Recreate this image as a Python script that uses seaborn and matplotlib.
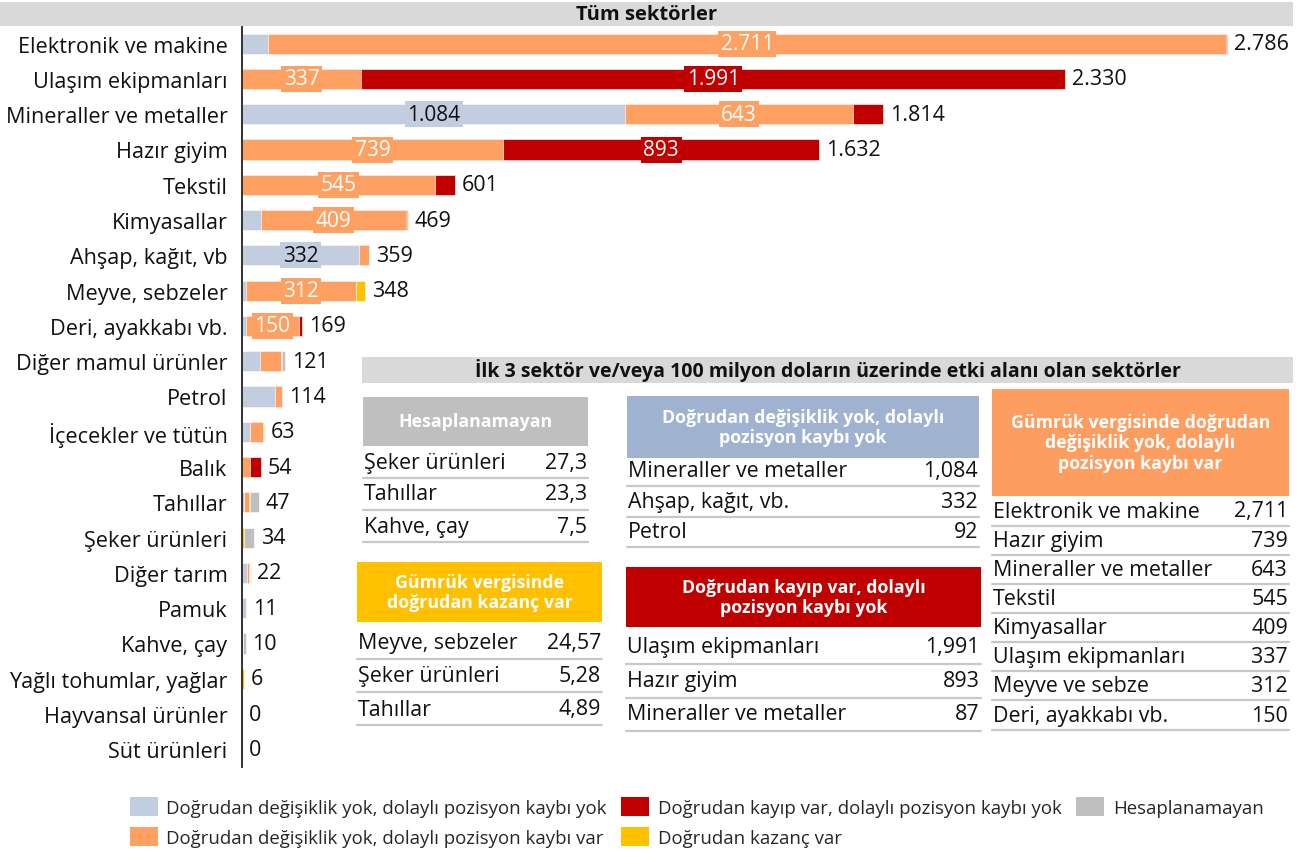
import matplotlib
matplotlib.use("Agg")
import matplotlib.pyplot as plt
from matplotlib.patches import Rectangle, Patch
from matplotlib.lines import Line2D
import numpy as np
import pandas as pd
import seaborn as sns

# veriler (milyon dolar)
sektorler = ["Elektronik ve makine", "Ulaşım ekipmanları", "Mineraller ve metaller",
             "Hazır giyim", "Tekstil", "Kimyasallar", "Ahşap, kağıt, vb",
             "Meyve, sebzeler", "Deri, ayakkabı vb.", "Diğer mamul ürünler", "Petrol",
             "İçecekler ve tütün", "Balık", "Tahıllar", "Şeker ürünleri", "Diğer tarım",
             "Pamuk", "Kahve, çay", "Yağlı tohumlar, yağlar", "Hayvansal ürünler",
             "Süt ürünleri"]
mavi = [73, 0, 1084, 0, 0, 55, 332, 11, 11, 50, 92, 22, 0, 6, 1, 14, 11, 2.5, 0, 0, 0]
turuncu = [2711, 337, 643, 739, 545, 409, 27, 312, 150, 60, 22, 38, 22, 13, 0, 5, 0, 0, 0, 0, 0]
kirmizi = [2, 1991, 87, 893, 56, 3, 0, 0, 8, 0, 0, 0, 32, 0, 0, 0, 0, 0, 0, 0, 0]
sari = [0, 0, 0, 0, 0, 2, 0, 25, 0, 4, 0, 3, 0, 4.89, 5.28, 3, 0, 0, 6, 0, 0]
gri = [0, 0, 0, 0, 0, 0, 0, 0, 0, 7, 0, 0, 0, 23.3, 27.3, 0, 0, 7.5, 0, 0, 0]
toplam = [2786, 2330, 1814, 1632, 601, 469, 359, 348, 169, 121, 114, 63, 54, 47, 34,
          22, 11, 10, 6, 0, 0]

katmanlar = ["mavi", "turuncu", "kirmizi", "sari", "gri"]
renkler = {"mavi": "#c3cde0", "turuncu": "#fda062", "kirmizi": "#c00000",
           "sari": "#ffc000", "gri": "#bfbfbf"}
etiketler = {"mavi": "Doğrudan değişiklik yok, dolaylı pozisyon kaybı yok",
             "turuncu": "Doğrudan değişiklik yok, dolaylı pozisyon kaybı var",
             "kirmizi": "Doğrudan kayıp var, dolaylı pozisyon kaybı yok",
             "sari": "Doğrudan kazanç var",
             "gri": "Hesaplanamayan"}

# tablolar
hes_ad = ["Şeker ürünleri", "Tahıllar", "Kahve, çay"]
hes_deger = ["27,3", "23,3", "7,5"]
kaz_ad = ["Meyve, sebzeler", "Şeker ürünleri", "Tahıllar"]
kaz_deger = ["24,57", "5,28", "4,89"]
mavi_ad = ["Mineraller ve metaller", "Ahşap, kağıt, vb.", "Petrol"]
mavi_deger = ["1,084", "332", "92"]
kir_ad = ["Ulaşım ekipmanları", "Hazır giyim", "Mineraller ve metaller"]
kir_deger = ["1,991", "893", "87"]
tur_ad = ["Elektronik ve makine", "Hazır giyim", "Mineraller ve metaller", "Tekstil",
          "Kimyasallar", "Ulaşım ekipmanları", "Meyve ve sebze", "Deri, ayakkabı vb."]
tur_deger = ["2,711", "739", "643", "545", "409", "337", "312", "150"]

df = pd.DataFrame({"sektor": sektorler, "mavi": mavi, "turuncu": turuncu,
                   "kirmizi": kirmizi, "sari": sari, "gri": gri})
kum = df[katmanlar].cumsum(axis=1)

sns.set_theme(style="white")
FONT = ["Open Sans", "DejaVu Sans"]
plt.rcParams["font.family"] = FONT

W, H = 1303, 854
fig = plt.figure(figsize=(W / 100, H / 100), dpi=100)

def fx(x):
    return x / W

def fy(y):
    return 1 - y / H

ax = fig.add_axes([fx(242), fy(768), fx(1300) - fx(242), fy(27) - fy(768)])

# yigilmis barlar: en distaki katmandan iceri dogru
for k in katmanlar[::-1]:
    sns.barplot(x=kum[k], y=df["sektor"], orient="h", color=renkler[k], width=0.57,
                edgecolor="white", linewidth=0.45, saturation=1, ax=ax)

ax.set_xlim(0, 2992)
ax.set_xlabel("")
ax.set_ylabel("")
ax.set_xticks([])
for s in ["top", "right", "bottom"]:
    ax.spines[s].set_visible(False)
ax.spines["left"].set_color("#222222")
ax.spines["left"].set_linewidth(1.3)
ax.tick_params(axis="y", length=0, pad=10.5, labelsize=15.6, labelcolor="#111111")

# bar ici degerler
for i in range(len(sektorler)):
    sol = 0
    for k in ["mavi", "turuncu", "kirmizi"]:
        v = df[k][i]
        if v >= 150:
            metin = f"{v:,.0f}".replace(",", ".")
            ax.text(sol + v / 2, i, metin, ha="center", va="center", fontsize=15,
                    color="#111111" if k == "mavi" else "white",
                    bbox=dict(boxstyle="square,pad=0.12", fc=renkler[k], ec="none"))
        sol += v
    ax.annotate(f"{toplam[i]:,.0f}".replace(",", "."), xy=(kum["gri"][i], i),
                xytext=(5, 0), textcoords="offset points", va="center", ha="left",
                fontsize=15.5, color="#111111")

# baslik bantlari
def bant(x0, x1, y0, y1, metin, boyut):
    fig.patches.append(Rectangle((fx(x0), fy(y1)), fx(x1) - fx(x0), fy(y0) - fy(y1),
                                 transform=fig.transFigure, fc="#d9d9d9", ec="none"))
    fig.text(fx((x0 + x1) / 2), fy((y0 + y1) / 2), metin, ha="center", va="center",
             fontsize=boyut, fontweight="bold", color="#111111")

bant(0, 1293, 3, 27, "Tüm sektörler", 14.5)
bant(362, 1293, 358, 384,
     "İlk 3 sektör ve/veya 100 milyon doların üzerinde etki alanı olan sektörler", 14)

def tablo(x0, x1, h0, h1, baslik, renk, adlar, degerler, ilk, aralik, cizgi):
    fig.patches.append(Rectangle((fx(x0), fy(h1)), fx(x1) - fx(x0), fy(h0) - fy(h1),
                                 transform=fig.transFigure, fc=renk, ec="none"))
    fig.text(fx((x0 + x1) / 2), fy((h0 + h1) / 2), baslik, ha="center", va="center",
             fontsize=12.8, fontweight="bold", color="white", linespacing=1.2)
    for j, (a, d) in enumerate(zip(adlar, degerler)):
        y = ilk + j * aralik
        fig.text(fx(x0 + 1), fy(y), a, ha="left", va="center", fontsize=15.4,
                 color="#111111")
        fig.text(fx(x1 - 1), fy(y), d, ha="right", va="center", fontsize=15.4,
                 color="#111111")
        fig.lines.append(Line2D([fx(x0), fx(x1)], [fy(y + cizgi)] * 2,
                                transform=fig.transFigure, color="#c8c8c8", lw=1.6))

tablo(363, 588, 398, 447, "Hesaplanamayan", "#bfbfbf", hes_ad, hes_deger, 463, 32, 16)
tablo(357, 602, 563, 623, "Gümrük vergisinde\ndoğrudan kazanç var", "#ffc000",
      kaz_ad, kaz_deger, 644, 33, 16)
tablo(627, 979, 397, 459, "Doğrudan değişiklik yok, dolaylı\npozisyon kaybı yok", "#9fb3d1",
      mavi_ad, mavi_deger, 472, 30.5, 15)
tablo(626, 981, 568, 628, "Doğrudan kayıp var, dolaylı\npozisyon kaybı yok", "#c00000",
      kir_ad, kir_deger, 648, 33.5, 17)
tablo(992, 1289, 390, 497, "Gümrük vergisinde doğrudan\ndeğişiklik yok, dolaylı\npozisyon kaybı var",
      "#fd9d5f", tur_ad, tur_deger, 512, 29.15, 14.5)

# lejant
tutamak = [Patch(fc=renkler[k], ec="none", label=etiketler[k]) for k in katmanlar]
fig.legend(handles=tutamak, ncol=3, loc="upper left", bbox_to_anchor=(fx(113), fy(781)),
           frameon=False, handlelength=1.5, handleheight=1.2,
           handletextpad=0.45, columnspacing=0.8, labelspacing=0.55,
           prop={"family": FONT, "size": 13.4})

fig.savefig("out.png", dpi=100)
